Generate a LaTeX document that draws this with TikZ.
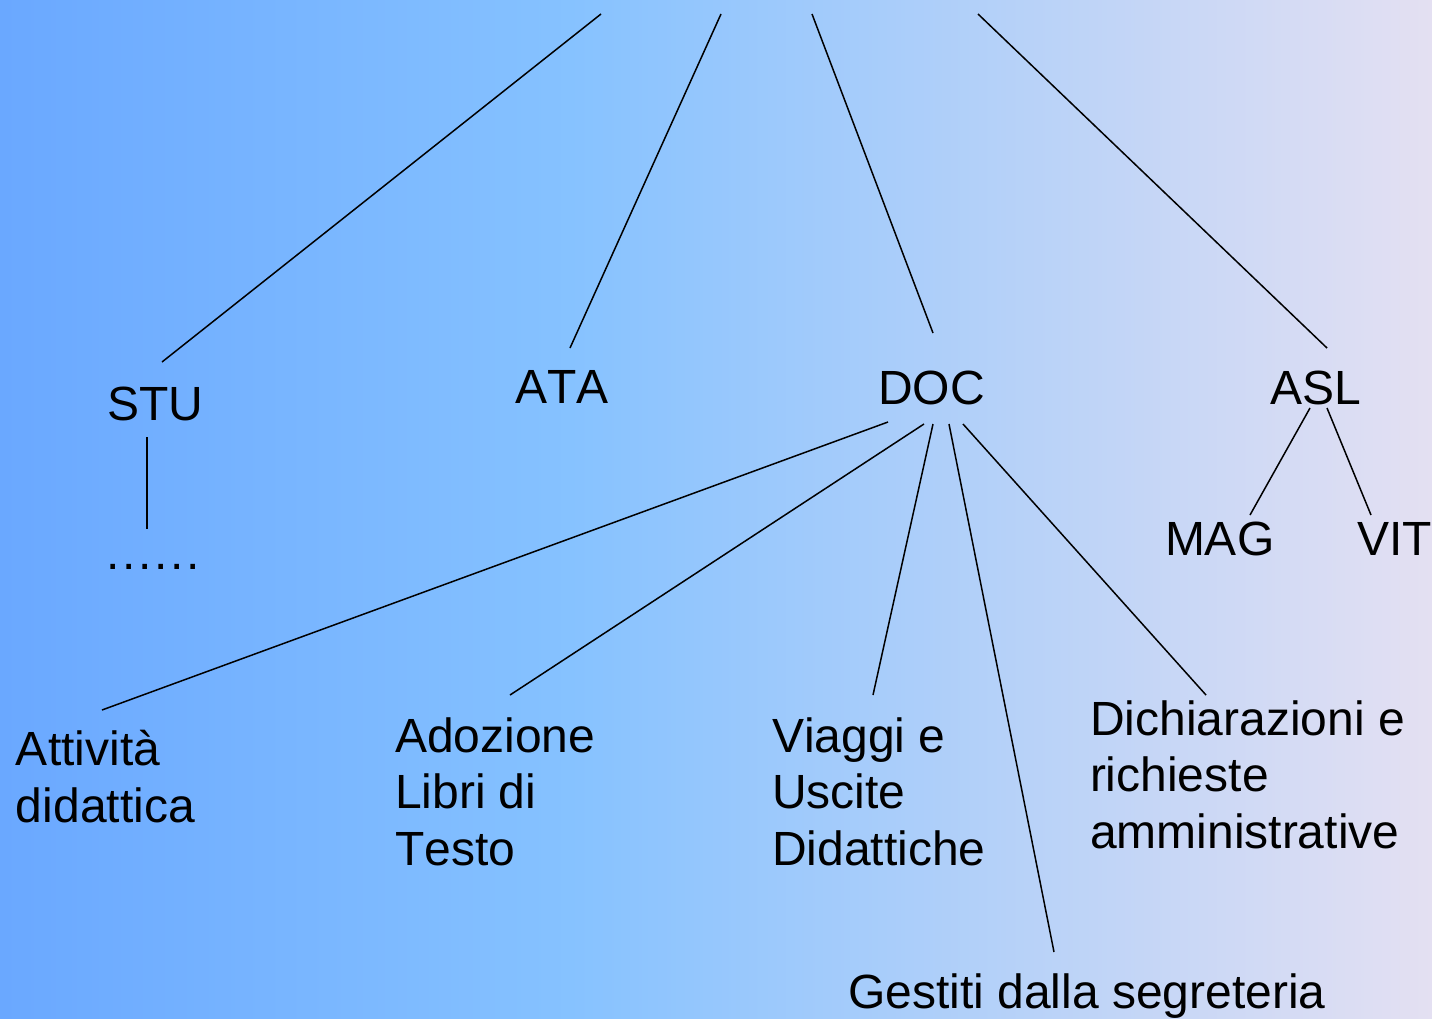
\documentclass[tikz,border=0pt]{standalone}
\usepackage{fontspec}
\setmainfont{Liberation Sans}[Kerning=Off]
\definecolor{bgA}{RGB}{106,168,255}
\definecolor{bgB}{RGB}{134,194,255}
\definecolor{bgC}{RGB}{228,224,242}
\tikzset{
  lbl/.style={inner sep=0pt, outer sep=0pt, anchor=base west, align=left,
              font=\fontsize{48}{56.5}\selectfont, text=black},
  edge/.style={draw=black, line width=1.5pt}
}
\begin{document}
\begin{tikzpicture}[x=1pt,y=-1pt]
\useasboundingbox (0,0) rectangle (1432,1018);
\shade[left color=bgA, right color=bgB] (0,0) rectangle (571,1018);
\shade[left color=bgB, right color=bgC] (570,0) rectangle (1432,1018);

% free ends toward the (off-picture) root
\coordinate (r1) at (601,14);
\coordinate (r2) at (721,14);
\coordinate (r3) at (812,14);
\coordinate (r4) at (978,14);

\node[lbl] (stu) at (107,420) {STU};
\node[lbl] (dots) at (106,569) {.\kern2.7pt.\kern2.7pt.\kern2.7pt.\kern2.7pt.\kern2.7pt.};
\node[lbl] (ata) at (515,403) {ATA};
\node[lbl] (doc) at (878,404) {DOC};
\node[lbl] (asl) at (1270,404) {ASL};
\node[lbl] (mag) at (1165,555) {MAG};
\node[lbl] (vit) at (1357,555) {VIT};
% base anchor of a multi-line node = baseline of its last line
\node[lbl] (att) at (16,822) {Attività\\didattica};
\node[lbl] (ado) at (395,865) {Adozione\\Libri di\\Testo};
\node[lbl] (via) at (772,865) {Viaggi e\\Uscite\\Didattiche};
\node[lbl] (dic) at (1090,848) {Dichiarazioni e\\richieste\\amministrative};
\node[lbl] (ges) at (848,1008) {Gestiti dalla segreteria};

\draw[edge] (r1) -- ([shift={(55,-58)}]stu.base west);
\draw[edge] (r2) -- ([shift={(55,-55)}]ata.base west);
\draw[edge] (r3) -- ([shift={(55,-71)}]doc.base west);
\draw[edge] (r4) -- ([shift={(57,-56)}]asl.base west);

\draw[edge] ([shift={(40,17)}]stu.base west) -- ([shift={(41,-40)}]dots.base west);

\draw[edge] ([shift={(40,4)}]asl.base west) -- ([shift={(85,-40)}]mag.base west);
\draw[edge] ([shift={(57,4)}]asl.base west) -- ([shift={(14,-40)}]vit.base west);

\draw[edge] ([shift={(10,18)}]doc.base west) -- ([shift={(86,-112)}]att.base west);
\draw[edge] ([shift={(46,20)}]doc.base west) -- ([shift={(115,-170)}]ado.base west);
\draw[edge] ([shift={(55,20)}]doc.base west) -- ([shift={(101,-170)}]via.base west);
\draw[edge] ([shift={(71,20)}]doc.base west) -- ([shift={(206,-56)}]ges.base west);
\draw[edge] ([shift={(85,20)}]doc.base west) -- ([shift={(116,-153)}]dic.base west);
\end{tikzpicture}
\end{document}
